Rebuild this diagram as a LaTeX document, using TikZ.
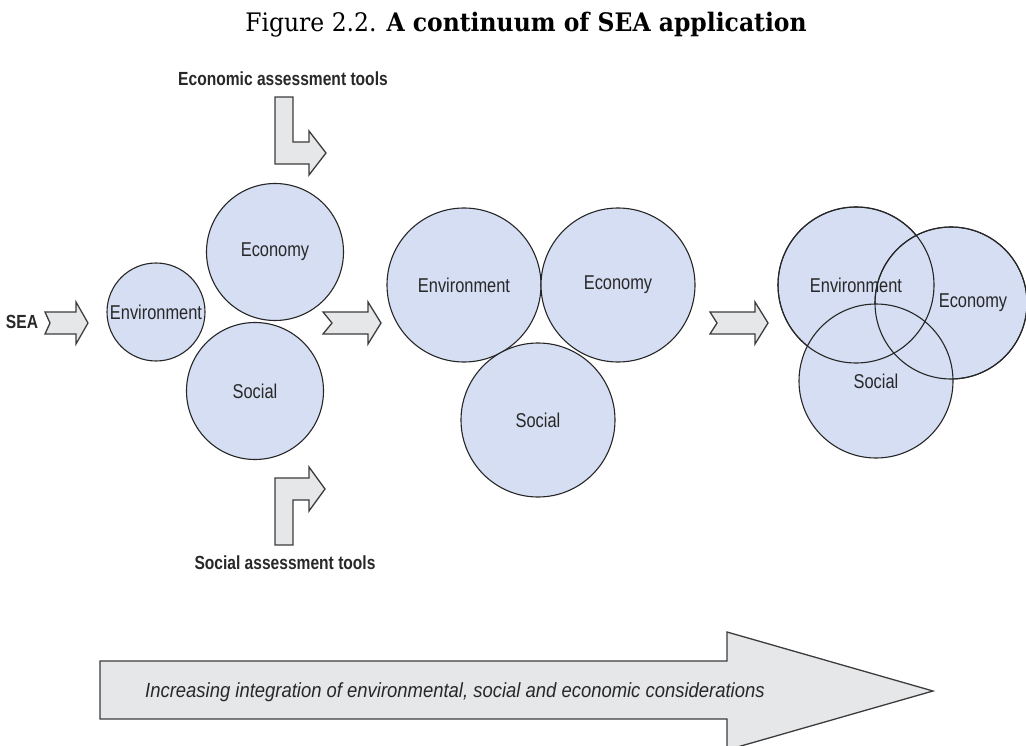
\documentclass[tikz,border=0pt]{standalone}
\usepackage{fontspec}
\setmainfont{Liberation Sans}
\newfontfamily\condf[FakeStretch=0.82]{Liberation Sans}
\newfontfamily\condi[FakeStretch=0.9]{Liberation Sans}
\newfontfamily\titlef[FakeStretch=0.92]{DejaVu Serif}
\definecolor{bub}{RGB}{213,222,242}
\definecolor{arrfill}{RGB}{230,231,233}
\definecolor{arrline}{RGB}{60,60,60}
\definecolor{txt}{RGB}{40,40,40}
\begin{document}
\begin{tikzpicture}[x=1pt,y=-1pt,
  bubble/.style={circle,draw=black!85,line width=1.1pt,fill=bub,inner sep=0pt,
    minimum size=#1,text=txt,font=\condf\fontsize{20}{24}\selectfont},
  ring/.style={draw=black!85,line width=1.1pt},
  fatarrow/.style={draw=arrline,fill=arrfill,line width=1.3pt,line join=miter},
  lbl/.style={text=txt,font=\condf\bfseries\fontsize{19}{23}\selectfont,inner sep=0pt},
  plain/.style={text=txt,font=\condf\fontsize{20}{24}\selectfont,inner sep=0pt}]
\clip (0,0) rectangle (1026,746);

% title
\node[anchor=base,inner sep=0pt,font=\titlef\fontsize{25.5}{30}\selectfont] (title) at (526,32)
  {Figure 2.2.\hspace{10pt}\textbf{A continuum of SEA application}};

% labels
\node[lbl] (ecotools) at (283,79) {Economic assessment tools};
\node[lbl] (soctools) at (285,563) {Social assessment tools};
\node[lbl] (sea) at (22,322) {SEA};

% bent arrows
\draw[fatarrow] (275,97) -- (293,97) -- (293,142) -- (309,142) -- (309,131) -- (326,153)
  -- (309,175) -- (309,164) -- (275,164) -- cycle;
\draw[fatarrow] (275,545) -- (293,545) -- (293,500) -- (309,500) -- (309,511) -- (325,489)
  -- (309,467) -- (309,478) -- (275,478) -- cycle;

% straight arrows
\draw[fatarrow] (45,312) -- (76,312) -- (76,302) -- (88,323) -- (76,344) -- (76,334)
  -- (45,334) -- (50,323) -- cycle;
\draw[fatarrow] (323,312) -- (368,312) -- (368,302) -- (381,323) -- (368,344) -- (368,334)
  -- (323,334) -- (332,323) -- cycle;
\draw[fatarrow] (710,312) -- (755,312) -- (755,302) -- (768,323) -- (755,344) -- (755,334)
  -- (710,334) -- (717,323) -- cycle;

% left group
\node[bubble=98] (envA) at (156,312) {Environment};
\node[bubble=137] (ecoA) at (275,252) {Economy};
\node[bubble=137] (socA) at (255,391) {Social};

% middle group
\node[bubble=154] (envB) at (464,285) {Environment};
\node[bubble=154] (ecoB) at (618,285) {Economy};
\node[bubble=154] (socB) at (538,420) {Social};

% right group
\node[bubble=156] (envC) at (856,285) {};
\node[bubble=152] (ecoC) at (951,303) {};
\node[bubble=154] (socC) at (876,381) {Social};
\draw[ring] (envC.center) circle[radius=78];
\draw[ring] (ecoC.center) circle[radius=76];
\node[plain] (ecoClbl) at (973,303) {Economy};
\node[plain] (envClbl) at (envC.center) {Environment};

% big arrow
\draw[fatarrow] (100,661) -- (727,661) -- (727,632) -- (933,691) -- (727,750) -- (727,719)
  -- (100,719) -- cycle;
\node[plain,anchor=west,font=\condi\itshape\fontsize{20.5}{24}\selectfont] (integ) at (145,692)
  {Increasing integration of environmental, social and economic considerations};
\end{tikzpicture}
\end{document}
